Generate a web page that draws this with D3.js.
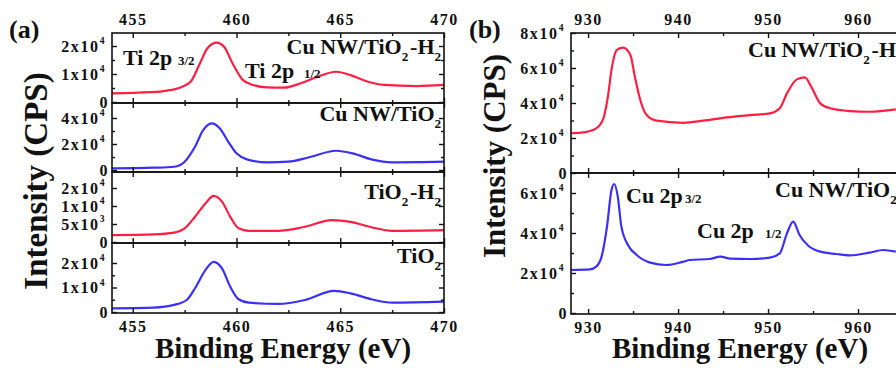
<!DOCTYPE html>
<html>
<head>
<meta charset="utf-8">
<script src="https://cdn.jsdelivr.net/npm/d3@7"></script>
<style>
  html, body { margin: 0; padding: 0; background: #fff; overflow: hidden; }
  text { font-family: "Liberation Serif", "Times New Roman", serif; font-weight: bold; fill: #111; }
</style>
</head>
<body>
<svg id="chart" width="896" height="368"></svg>
<script>
const red = "#ff1f42";
const blue = "#3b30f5";

// ---- panel (a): Ti 2p ----
const tiTicks = [455, 460, 465, 470];
const tiMinor = [457.5, 462.5, 467.5];

// Cu NW/TiO2-H2
const a1E = [454, 455.8, 456.6, 457.3, 457.8, 458.2, 458.6, 459.05, 459.4, 459.85, 460.3, 460.8, 461.45, 462.3, 463.1, 463.9, 464.8, 465.5, 466.3, 467.1, 468.7, 470];
const a1I = [3100, 3500, 4000, 5200, 7300, 13200, 19200, 21200, 19700, 13200, 7900, 6100, 5200, 5100, 6700, 9000, 10800, 9600, 7300, 6100, 5700, 6100];
// Cu NW/TiO2
const a2E = [454, 456, 457, 457.5, 458, 458.4, 458.8, 459.2, 459.6, 460, 460.5, 461.5, 462.5, 463.5, 464.8, 465.6, 466.5, 467.5, 470];
const a2I = [1300, 1800, 2500, 6400, 17900, 30800, 35900, 32000, 21800, 12800, 8200, 5900, 6400, 9800, 14800, 12800, 8200, 5900, 6400];
// TiO2-H2
const a3E = [454, 456, 457, 457.5, 458, 458.5, 458.9, 459.3, 459.7, 460.1, 460.6, 462, 463.2, 464.6, 465.5, 466.5, 467.5, 470];
const a3I = [1900, 2100, 2600, 3800, 7000, 10700, 12800, 11200, 7000, 3800, 3100, 3100, 4100, 6100, 5600, 4100, 3100, 3300];
// TiO2
const a4E = [454, 456, 457, 457.6, 458, 458.5, 458.9, 459.3, 459.7, 460.1, 460.6, 462, 463.3, 464.7, 465.5, 466.5, 467.5, 470];
const a4I = [1500, 1800, 2900, 4900, 9700, 17100, 20500, 17800, 10300, 5200, 3800, 3300, 4900, 8600, 7600, 5200, 3800, 4200];

const a1Ticks = [0, 10000, 20000], a1Labels = ["0", "1x10^4", "2x10^4"], a1Minor = [5000, 15000];
const a2Ticks = [0, 20000, 40000], a2Labels = ["0", "2x10^4", "4x10^4"], a2Minor = [10000, 30000];
const a3Ticks = [0, 5000, 10000, 15000], a3Labels = ["0", "5x10^3", "1x10^4", "2x10^4"], a3Minor = [];
const a4Ticks = [0, 10000, 20000], a4Labels = ["0", "1x10^4", "2x10^4"], a4Minor = [5000, 15000];

// ---- panel (b): Cu 2p ----
const cuTicks = [930, 940, 950, 960];
const cuMinor = [935, 945, 955, 965];

// Cu NW/TiO2-H2
const b1E = [928.1, 929.5, 930.9, 931.7, 932.2, 932.6, 933.2, 933.9, 934.7, 935.2, 935.8, 936.5, 937.6, 940.6, 942.8, 945.4, 948, 950.2, 951.3, 952.1, 953.2, 954.1, 954.8, 955.8, 956.9, 959.1, 961.3, 964.2];
const b1I = [22700, 23200, 25500, 31200, 43600, 58900, 70300, 71600, 67400, 55000, 41700, 33100, 29900, 28700, 29900, 31800, 33100, 34100, 37000, 45500, 53500, 54700, 49300, 39800, 37000, 35400, 35000, 36400];
// Cu NW/TiO2
const b2E = [928.1, 930.2, 930.9, 931.5, 932.1, 932.6, 932.9, 933.3, 933.7, 934.5, 935.4, 936.9, 938.7, 940.6, 941.3, 943.5, 944.7, 945.8, 948, 950.2, 951.3, 952.1, 952.8, 953.5, 954.5, 955.8, 957.6, 959.1, 961.3, 962.8, 964.2];
const b2I = [21500, 21800, 23200, 28200, 43200, 61500, 64500, 58200, 43200, 33500, 29000, 25200, 24000, 25700, 26500, 27000, 28200, 27200, 27000, 27700, 29800, 39800, 45700, 39000, 33500, 30700, 29500, 28800, 30200, 31500, 30700];

const b1Ticks = [0, 20000, 40000, 60000, 80000], b1Labels = ["0", "2x10^4", "4x10^4", "6x10^4", "8x10^4"], b1Minor = [10000, 30000, 50000, 70000];
const b2Ticks = [0, 20000, 40000, 60000], b2Labels = ["0", "2x10^4", "4x10^4", "6x10^4"], b2Minor = [10000, 30000, 50000];

const svg = d3.select("#chart");

// text with "^" exponent and "_" subscript pieces
function richText(sel, str, baseSize) {
  const parts = str.split(/([\^_]\S)/);
  parts.forEach(p => {
    if (!p) return;
    if (p[0] === "^") {
      sel.append("tspan").attr("font-size", baseSize * 0.6).attr("dy", -baseSize * 0.45).text(p[1]);
      sel.append("tspan").attr("dy", baseSize * 0.45).text("\u200a");
    } else if (p[0] === "_") {
      sel.append("tspan").attr("font-size", baseSize * 0.6).attr("dy", baseSize * 0.3).text(p[1]);
      sel.append("tspan").attr("dy", -baseSize * 0.3).text("\u200a");
    } else {
      sel.append("tspan").text(p);
    }
  });
}

function subplot(o) {
  const x = o.x;
  const y = d3.scaleLinear().domain(o.yDomain).range([o.bottom, o.top]);
  const g = svg.append("g");
  const [x0, x1] = x.range();

  const clipId = "clip" + Math.round(o.top) + "_" + Math.round(x0);
  svg.append("clipPath").attr("id", clipId)
    .append("rect").attr("x", x0).attr("y", o.top).attr("width", x1 - x0).attr("height", o.bottom - o.top);

  g.append("path")
    .datum(d3.zip(o.energies, o.values))
    .attr("clip-path", `url(#${clipId})`)
    .attr("fill", "none")
    .attr("stroke", o.color)
    .attr("stroke-width", 2.2)
    .attr("stroke-linejoin", "round")
    .attr("d", d3.line().x(d => x(d[0])).y(d => y(d[1])).curve(d3.curveMonotoneX));

  const tickStyle = s => {
    s.select(".domain").remove();
    s.selectAll("line").attr("stroke", "#111").attr("stroke-width", 1.4);
  };

  // inward ticks on all four sides
  g.append("g").attr("transform", `translate(0,${o.bottom})`)
    .call(d3.axisBottom(x).tickValues(o.xTicks).tickSize(-5).tickFormat("")).call(tickStyle);
  g.append("g").attr("transform", `translate(0,${o.bottom})`)
    .call(d3.axisBottom(x).tickValues(o.xMinor).tickSize(-3).tickFormat("")).call(tickStyle);
  g.append("g").attr("transform", `translate(0,${o.top})`)
    .call(d3.axisTop(x).tickValues(o.xTicks).tickSize(-5).tickFormat("")).call(tickStyle);
  g.append("g").attr("transform", `translate(0,${o.top})`)
    .call(d3.axisTop(x).tickValues(o.xMinor).tickSize(-3).tickFormat("")).call(tickStyle);
  g.append("g").attr("transform", `translate(${x1},0)`)
    .call(d3.axisRight(y).tickValues(o.yTicks).tickSize(-5).tickFormat("")).call(tickStyle);
  g.append("g").attr("transform", `translate(${x1},0)`)
    .call(d3.axisRight(y).tickValues(o.yMinor).tickSize(-3).tickFormat("")).call(tickStyle);
  g.append("g").attr("transform", `translate(${x0},0)`)
    .call(d3.axisLeft(y).tickValues(o.yMinor).tickSize(-3).tickFormat("")).call(tickStyle);

  const left = g.append("g").attr("transform", `translate(${x0},0)`)
    .call(d3.axisLeft(y).tickValues(o.yTicks).tickSize(-5).tickPadding(3).tickFormat(""))
    .call(tickStyle);
  left.selectAll(".tick text").each(function(d, i) {
    const t = d3.select(this).attr("font-size", 16).attr("letter-spacing", 1.6).attr("fill", "#111");
    richText(t, o.yLabels[i], 16);
  });

  const xLabelStyle = s => {
    s.select(".domain").remove();
    s.selectAll("text").attr("font-size", 16).attr("letter-spacing", 1.5).attr("fill", "#111");
  };
  if (o.topLabels) {
    g.append("g").attr("transform", `translate(0,${o.top})`)
      .call(d3.axisTop(x).tickValues(o.xTicks).tickSize(0).tickPadding(8)).call(xLabelStyle);
  }
  if (o.bottomLabels) {
    g.append("g").attr("transform", `translate(0,${o.bottom})`)
      .call(d3.axisBottom(x).tickValues(o.xTicks).tickSize(0).tickPadding(8)).call(xLabelStyle);
  }

  g.append("rect")
    .attr("x", x0).attr("y", o.top).attr("width", x1 - x0).attr("height", o.bottom - o.top)
    .attr("fill", "none").attr("stroke", "#111").attr("stroke-width", 1.6);

  return y;
}

// panel (a)
const xa = d3.scaleLinear().domain([454, 470]).range([112, 444]);
subplot({ x: xa, top: 33, bottom: 103, yDomain: [-357, 24643], yTicks: a1Ticks, yLabels: a1Labels, yMinor: a1Minor,
  xTicks: tiTicks, xMinor: tiMinor, energies: a1E, values: a1I, color: red, topLabels: true });
subplot({ x: xa, top: 103, bottom: 172, yDomain: [-1538, 51538], yTicks: a2Ticks, yLabels: a2Labels, yMinor: a2Minor,
  xTicks: tiTicks, xMinor: tiMinor, energies: a2E, values: a2I, color: blue });
subplot({ x: xa, top: 172, bottom: 243, yDomain: [-278, 19444], yTicks: a3Ticks, yLabels: a3Labels, yMinor: a3Minor,
  xTicks: tiTicks, xMinor: tiMinor, energies: a3E, values: a3I, color: red });
subplot({ x: xa, top: 243, bottom: 313, yDomain: [-408, 28163], yTicks: a4Ticks, yLabels: a4Labels, yMinor: a4Minor,
  xTicks: tiTicks, xMinor: tiMinor, energies: a4E, values: a4I, color: blue, bottomLabels: true });

// panel (b)
const xb = d3.scaleLinear().domain([928.1, 970]).range([571, 948]);
subplot({ x: xb, top: 33, bottom: 173, yDomain: [0, 80000], yTicks: b1Ticks, yLabels: b1Labels, yMinor: b1Minor,
  xTicks: cuTicks, xMinor: cuMinor, energies: b1E, values: b1I, color: red, topLabels: true });
subplot({ x: xb, top: 173, bottom: 314, yDomain: [-500, 70000], yTicks: b2Ticks, yLabels: b2Labels, yMinor: b2Minor,
  xTicks: cuTicks, xMinor: cuMinor, energies: b2E, values: b2I, color: blue, bottomLabels: true });

// labels
function label(x, y, str, size, anchor) {
  const t = svg.append("text").attr("x", x).attr("y", y).attr("font-size", size).attr("text-anchor", anchor || "start");
  richText(t, str, size);
  return t;
}

label(9, 38, "(a)", 26);
label(469, 38, "(b)", 26);

label(443, 54, "Cu NW/TiO_2-H_2", 22, "end");
label(443, 121, "Cu NW/TiO_2", 22, "end");
label(443, 199, "TiO_2-H_2", 22, "end");
label(443, 263, "TiO_2", 22, "end");
label(123, 65, "Ti 2p", 22);
label(178, 65, "3/2", 13);
label(245, 78, "Ti 2p", 22);
label(304, 78, "1/2", 13);

label(748, 57, "Cu NW/TiO_2-H_2", 22);
label(775, 197, "Cu NW/TiO_2", 22);
label(626, 203, "Cu 2p", 22);
label(685, 203, "3/2", 13);
label(697, 238, "Cu 2p", 22);
label(765, 238, "1/2", 13);

// axis titles
svg.append("text").attr("x", 283).attr("y", 358).attr("text-anchor", "middle").attr("font-size", 29).text("Binding Energy (eV)");
svg.append("text").attr("x", 740).attr("y", 358).attr("text-anchor", "middle").attr("font-size", 29).text("Binding Energy (eV)");
svg.append("text").attr("transform", "translate(47,181) rotate(-90)").attr("text-anchor", "middle").attr("font-size", 33).text("Intensity (CPS)");
svg.append("text").attr("transform", "translate(505,156) rotate(-90)").attr("text-anchor", "middle").attr("font-size", 31).text("Intensity (CPS)");
</script>
</body>
</html>
